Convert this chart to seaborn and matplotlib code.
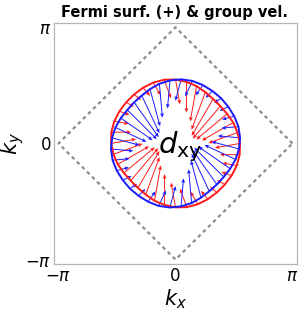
import numpy as np
import pandas as pd
import matplotlib
matplotlib.use("Agg")
import matplotlib.pyplot as plt
import seaborn as sns

PI = np.pi

# Fermi surface (+) of the two bands, polar samples
ANGLES_RED = [0, 10, 20, 30, 40, 50, 60, 70, 80, 90, 100, 110, 120, 130, 140, 150, 160, 170,
              180, 190, 200, 210, 220, 230, 240, 250, 260, 270, 280, 290, 300, 310, 320, 330, 340, 350]
RADII_RED = [1.73, 1.69, 1.65, 1.60, 1.57, 1.57, 1.60, 1.65, 1.69, 1.73, 1.75, 1.75, 1.74, 1.73, 1.73, 1.74, 1.75, 1.75,
             1.73, 1.69, 1.65, 1.60, 1.57, 1.57, 1.60, 1.65, 1.69, 1.73, 1.75, 1.75, 1.74, 1.73, 1.73, 1.74, 1.75, 1.75]
SPEED_RED = [0.68, 0.83, 0.97, 1.08, 1.15, 1.15, 1.08, 0.97, 0.83, 0.68, 0.53, 0.39, 0.29, 0.24, 0.24, 0.29, 0.39, 0.53,
             0.68, 0.83, 0.97, 1.08, 1.15, 1.15, 1.08, 0.97, 0.83, 0.68, 0.53, 0.39, 0.29, 0.24, 0.24, 0.29, 0.39, 0.53]

ANGLES_BLUE = [5, 15, 25, 35, 45, 55, 65, 75, 85, 95, 105, 115, 125, 135, 145, 155, 165, 175,
               185, 195, 205, 215, 225, 235, 245, 255, 265, 275, 285, 295, 305, 315, 325, 335, 345, 355]
RADII_BLUE = [1.74, 1.75, 1.74, 1.73, 1.73, 1.73, 1.74, 1.75, 1.74, 1.71, 1.67, 1.62, 1.58, 1.57, 1.58, 1.62, 1.67, 1.71,
              1.74, 1.75, 1.74, 1.73, 1.73, 1.73, 1.74, 1.75, 1.74, 1.71, 1.67, 1.62, 1.58, 1.57, 1.58, 1.62, 1.67, 1.71]
SPEED_BLUE = [0.60, 0.46, 0.34, 0.26, 0.23, 0.26, 0.34, 0.46, 0.60, 0.76, 0.92, 1.04, 1.12, 1.15, 1.12, 1.04, 0.92, 0.76,
              0.60, 0.46, 0.34, 0.26, 0.23, 0.26, 0.34, 0.46, 0.60, 0.76, 0.92, 1.04, 1.12, 1.15, 1.12, 1.04, 0.92, 0.76]

# velocity direction: inward, turned by a small angle (deg)
TILT_RED = 10
TILT_BLUE = -10

# Brillouin-zone diamond
BZ_X = [PI, 0, -PI, 0, PI]
BZ_Y = [0, PI, 0, -PI, 0]

TICKS = [-PI, 0, PI]
TICK_LABELS = [r"$-\pi$", "0", r"$\pi$"]

COLORS = {"red": "#ff1a1a", "blue": "#1a1aff"}


def band_frame(angles, radii, speed, tilt):
    th = np.deg2rad(np.array(angles, dtype=float))
    r = np.array(radii)
    kx, ky = r * np.cos(th), r * np.sin(th)
    phi = th + np.pi + np.deg2rad(tilt)
    vx, vy = np.array(speed) * np.cos(phi), np.array(speed) * np.sin(phi)
    return pd.DataFrame({"kx": kx, "ky": ky, "vx": vx, "vy": vy})


sns.set_theme(style="white")
plt.rcParams["font.family"] = ["DejaVu Sans"]
plt.rcParams["mathtext.fontset"] = "dejavusans"
plt.rcParams["text.color"] = "black"
plt.rcParams["axes.labelcolor"] = "black"
plt.rcParams["xtick.color"] = "black"
plt.rcParams["ytick.color"] = "black"

fig = plt.figure(figsize=(2.99, 3.18), dpi=100)
ax = fig.add_axes([0.181, 0.170, 0.812, 0.758])

ax.plot(BZ_X, BZ_Y, color="#8c8c8c", lw=1.6, linestyle=(0, (1.6, 1.6)), zorder=1)

bands = [("red", band_frame(ANGLES_RED, RADII_RED, SPEED_RED, TILT_RED)),
         ("blue", band_frame(ANGLES_BLUE, RADII_BLUE, SPEED_BLUE, TILT_BLUE))]

for name, df in bands:
    c = COLORS[name]
    ax.quiver(df["kx"], df["ky"], df["vx"], df["vy"], color=c,
              angles="xy", scale_units="xy", scale=1, width=0.004,
              headwidth=4, headlength=4.5, headaxislength=4, zorder=3)

for name, df in bands:
    closed = pd.concat([df, df.iloc[:1]], ignore_index=True)
    sns.lineplot(data=closed, x="kx", y="ky", sort=False, estimator=None,
                 color=COLORS[name], lw=1.4, ax=ax, zorder=4)

ax.text(0.12, -0.08, r"$d_{\mathrm{xy}}$", fontsize=21, ha="center", va="center", zorder=5)

lim = 3.26
ax.set_xlim(-lim, lim)
ax.set_ylim(-lim, lim)
ax.set_xticks(TICKS)
ax.set_xticklabels(TICK_LABELS, fontsize=12)
ax.set_yticks(TICKS)
ax.set_yticklabels(TICK_LABELS, fontsize=12)
ax.tick_params(direction="in", length=3, width=0.6, color="#999999", labelcolor="black", pad=2)
ax.set_xlabel(r"$k_x$", fontsize=15, labelpad=2)
ax.set_ylabel(r"$k_y$", fontsize=15)
ax.yaxis.set_label_coords(-0.115, 0.5)
for s in ax.spines.values():
    s.set_color("#b5b5b5")
    s.set_linewidth(0.9)

fig.suptitle("Fermi surf. (+) & group vel.", fontsize=10.5, fontweight="bold",
             color="black", x=0.585, y=0.985)

fig.savefig("out.png", dpi=100)
